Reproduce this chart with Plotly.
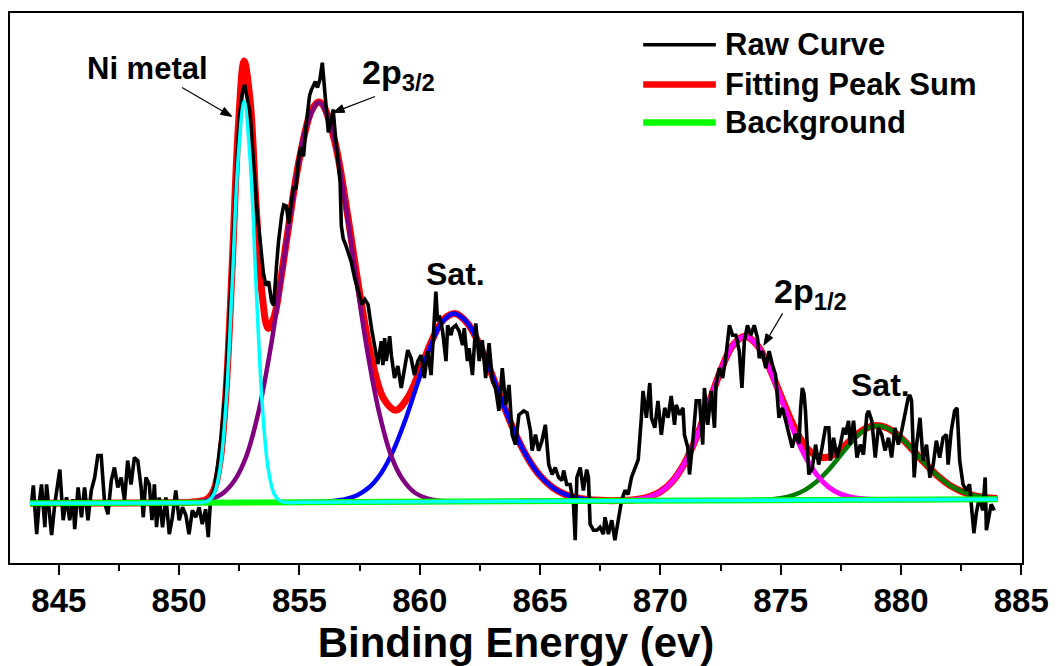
import math
import plotly.graph_objects as go

# ---------------- data ----------------
raw_energy = [
 843.87,843.94,844.08,844.18,844.28,844.42,844.49,844.60,844.70,844.83,845.04,845.18,845.32,845.45,845.59,845.66,
 845.80,845.94,846.07,846.21,846.35,846.49,846.62,846.76,846.90,847.04,847.18,847.31,847.45,847.59,847.73,847.86,
 848.00,848.14,848.28,848.42,848.51,848.62,848.76,848.87,848.97,849.06,849.17,849.31,849.45,849.59,849.72,849.86,
 850.00,850.14,850.28,850.41,850.55,850.69,850.83,850.96,851.10,851.21,851.31,851.45,851.60,851.75,851.90,852.05,
 852.20,852.35,852.50,852.62,852.72,852.82,852.95,853.10,853.25,853.39,853.50,853.60,853.72,853.84,853.93,854.05,
 854.13,854.26,854.35,854.46,854.55,854.65,854.75,854.85,854.96,855.05,855.17,855.30,855.42,855.50,855.60,855.66,
 855.75,855.85,855.95,856.05,856.12,856.20,856.30,856.40,856.50,856.60,856.69,856.74,856.82,856.92,857.02,857.15,
 857.30,857.45,857.60,857.72,857.85,858.00,858.14,858.26,858.40,858.47,858.54,858.61,858.75,858.82,858.95,859.09,
 859.23,859.37,859.50,859.64,859.78,859.92,860.06,860.19,860.33,860.47,860.61,860.67,860.74,860.81,860.95,861.09,
 861.16,861.30,861.36,861.50,861.64,861.78,861.85,861.98,862.05,862.19,862.33,862.47,862.60,862.74,862.88,863.02,
 863.15,863.29,863.43,863.57,863.71,863.84,863.98,864.12,864.32,864.46,864.60,864.67,864.81,864.94,865.08,865.22,
 865.36,865.50,865.63,865.77,865.91,865.98,866.11,866.25,866.39,866.46,866.53,866.67,866.80,866.94,867.01,867.08,
 867.22,867.36,867.49,867.63,867.70,867.84,867.98,868.11,868.25,868.39,868.53,868.66,868.80,868.94,869.08,869.21,
 869.28,869.42,869.56,869.63,869.77,869.90,870.04,870.18,870.32,870.45,870.59,870.66,870.80,870.94,871.00,871.14,
 871.21,871.35,871.49,871.63,871.76,871.83,871.97,872.11,872.25,872.31,872.45,872.59,872.73,872.87,873.00,873.14,
 873.28,873.39,873.49,873.62,873.76,873.90,874.04,874.11,874.24,874.38,874.52,874.66,874.79,874.93,875.07,875.21,
 875.35,875.48,875.62,875.76,875.83,875.90,875.97,876.03,876.17,876.31,876.45,876.58,876.72,876.86,877.00,877.07,
 877.20,877.34,877.48,877.62,877.69,877.82,877.89,878.03,878.17,878.31,878.44,878.58,878.65,878.79,878.93,879.06,
 879.20,879.34,879.48,879.61,879.75,879.89,880.03,880.17,880.30,880.37,880.44,880.55,880.65,880.79,880.92,881.06,
 881.20,881.34,881.47,881.61,881.75,881.89,881.96,882.09,882.23,882.33,882.44,882.58,882.71,882.85,882.92,883.03,
 883.13,883.26,883.40,883.50,883.55,883.68,883.75,883.88]
raw_counts = [
 1,18,-31,0,19,-24,19,-10,-32,-1,34,-17,6,-17,4,-26,
 16,-14,16,-17,13,26,48,48,1,-11,23,36,16,26,3,43,
 19,46,43,16,-14,26,19,-17,19,-24,6,-24,6,-31,-14,13,
 -17,-4,-12,-31,-7,-14,-4,-21,-6,-34,6,14,38,68,108,168,
 236,318,388,412,421,408,392,340,290,258,232,219,223,203,199,240,
 263,289,300,299,281,300,318,316,346,358,349,385,410,416,420,424,
 418,426,443,416,395,373,382,396,368,340,323,279,266,260,253,243,
 226,212,200,205,200,175,156,140,163,139,166,143,168,149,126,138,
 116,136,154,146,129,143,149,126,153,129,189,213,183,189,173,143,
 179,169,176,179,173,159,176,143,156,129,181,143,164,126,161,123,
 116,93,136,99,119,69,59,89,93,91,73,53,69,53,63,79,
 39,29,36,26,23,33,19,19,-1,-37,26,36,13,34,26,-21,
 -27,-27,-24,-31,-14,-31,-17,-37,-17,3,13,9,26,36,44,86,
 113,86,121,86,76,103,69,96,86,108,79,99,89,96,69,56,
 29,63,103,103,59,116,79,113,76,119,136,126,149,179,169,169,
 153,116,163,179,169,179,166,146,153,136,153,139,129,86,96,83,
 69,56,70,60,96,116,110,93,29,35,59,39,56,76,76,43,
 66,46,59,76,69,83,59,83,46,59,49,89,93,83,46,76,
 69,53,66,46,76,59,73,89,106,109,103,26,59,86,43,59,
 26,39,63,46,66,69,39,73,93,96,43,19,13,19,-4,-30,
 -10,6,-7,26,-27,-7,-1,-7]

fit_energy = [843.8,848.0,850.0,850.5,851.0,851.2,851.45,851.7,851.95,852.2,852.45,852.7,852.95,853.2,853.45,
 853.7,853.95,854.2,854.5,855.0,855.5,855.8,856.0,856.5,857.0,857.5,858.0,858.5,859.0,859.5,860.0,860.5,861.0,
 861.5,862.0,862.5,863.0,863.5,864.0,864.5,865.0,865.5,866.0,866.5,867.0,867.5,868.0,868.5,869.0,869.5,870.0,
 870.5,871.0,871.5,872.0,872.5,873.0,873.5,874.0,874.5,875.0,875.5,876.0,876.5,877.0,877.5,878.0,878.5,879.0,
 879.5,880.0,880.5,881.0,881.5,882.0,882.5,883.0,883.5,884.0]
fit_sum = [0.0,0.4,0.8,1.2,2.7,4.9,13.8,42.3,113.1,236.6,374.2,444.8,404.6,298.9,209.6,
 175.9,187.6,221.3,270.2,346.4,394.8,403.5,399.8,360.4,290.2,211.6,145.6,105.3,93.7,106.3,133.4,163.5,185.1,
 190.7,180.6,158.7,129.2,97.7,68.6,45.0,27.7,16.3,9.4,5.7,3.8,3.0,2.7,3.0,3.8,6.3,11.6,
 22.1,40.0,66.5,99.4,133.0,158.4,168.1,159.9,137.9,108.5,79.9,58.2,47.3,46.8,54.5,65.5,74.9,78.3,
 74.9,65.9,53.5,40.1,28.1,18.6,12.2,8.1,6.0,4.8]

bg_energy = [843.8, 884.0]
bg_counts = [0.0, 4.0]

ni_energy = [843.8,848.0,850.5,850.95,851.2,851.45,851.7,851.95,852.2,852.45,852.7,852.95,853.2,853.45,853.7,
 853.95,854.2,854.45,855.0,860.0,884.0]
ni_counts = [0.0,0.4,0.7,0.9,2.4,9.3,34.8,100.8,217.8,345.8,403.8,345.8,217.8,100.8,34.8,
 9.3,2.4,1.0,1.1,1.6,4.0]

p32_energy = [843.8,847.0,849.8,850.3,850.8,851.3,851.8,852.3,852.8,853.3,853.8,854.3,854.8,855.3,855.8,
 856.3,856.8,857.3,857.8,858.3,858.8,859.3,859.8,860.3,860.8,861.3,861.8,864.0,884.0]
p32_counts = [0.0,0.3,0.7,1.0,1.7,4.0,9.8,22.9,47.9,92.0,156.0,236.0,318.0,380.0,403.0,
 380.0,318.0,236.0,156.0,92.5,48.5,23.6,10.6,5.0,2.7,2.1,1.9,2.0,4.0]

sat1_energy = [843.8,850.0,853.5,855.9,856.4,856.9,857.4,857.9,858.4,858.9,859.4,859.9,860.4,860.9,861.4,
 861.9,862.4,862.9,863.4,863.9,864.4,864.9,865.4,865.9,866.4,866.9,867.4,867.9,870.0,884.0]
sat1_counts = [0.0,0.6,1.0,1.5,2.3,4.1,8.2,16.2,30.6,53.0,83.8,119.9,155.2,181.1,190.8,
 183.6,163.9,135.5,103.9,74.0,49.2,30.6,18.2,10.5,6.3,4.1,3.1,2.7,2.6,4.0]

p12_energy = [843.8,856.0,865.0,868.0,868.5,869.0,869.5,870.0,870.5,871.0,871.5,872.0,872.5,873.0,873.5,
 874.0,874.5,875.0,875.5,876.0,876.5,877.0,877.5,878.0,878.5,879.0,879.5,881.0,884.0]
p12_counts = [0.0,1.2,2.1,2.5,2.9,3.8,6.3,11.6,22.1,40.0,66.5,99.4,133.0,158.4,168.0,
 159.6,137.1,106.4,75.0,48.1,28.7,16.2,9.3,5.8,4.4,3.8,3.6,3.7,4.0]

sat2_energy = [843.8,860.0,870.0,873.5,874.0,874.5,875.0,875.5,876.0,876.5,877.0,877.5,878.0,878.5,879.0,
 879.5,880.0,880.5,881.0,881.5,882.0,882.5,883.0,883.5,884.0]
sat2_counts = [0.0,1.6,2.6,3.1,3.3,3.9,5.2,8.1,13.3,21.9,33.9,48.6,63.1,74.0,78.0,
 74.8,65.9,53.5,40.1,28.1,18.6,12.2,8.1,6.0,4.8]

legend_names = ["Raw Curve", "Fitting Peak Sum", "Background"]
peak_labels = ["Ni metal", "2p<sub>3/2</sub>", "Sat.", "2p<sub>1/2</sub>", "Sat."]

# ---------------- figure ----------------
FONT = "Arial, 'Liberation Sans', Helvetica, sans-serif"
fig = go.Figure()

fig.add_trace(go.Scatter(x=fit_energy, y=fit_sum, mode="lines", line=dict(color="#ff0000", width=7, shape="spline"),
                         name=legend_names[1], showlegend=False))
fig.add_trace(go.Scatter(x=sat2_energy, y=sat2_counts, mode="lines", line=dict(color="#007a00", width=4.5, shape="spline"),
                         showlegend=False))
fig.add_trace(go.Scatter(x=p12_energy, y=p12_counts, mode="lines", line=dict(color="#ff00ff", width=5, shape="spline"),
                         showlegend=False))
fig.add_trace(go.Scatter(x=sat1_energy, y=sat1_counts, mode="lines", line=dict(color="#0000ff", width=4.5, shape="spline"),
                         showlegend=False))
fig.add_trace(go.Scatter(x=p32_energy, y=p32_counts, mode="lines", line=dict(color="#800080", width=4.5, shape="spline"),
                         showlegend=False))
fig.add_trace(go.Scatter(x=raw_energy, y=raw_counts, mode="lines", line=dict(color="#000000", width=3.6),
                         name=legend_names[0], showlegend=False))
fig.add_trace(go.Scatter(x=bg_energy, y=bg_counts, mode="lines", line=dict(color="#00ff00", width=6),
                         name=legend_names[2], showlegend=False))
fig.add_trace(go.Scatter(x=ni_energy, y=ni_counts, mode="lines", line=dict(color="#00ffff", width=3.5, shape="spline"),
                         showlegend=False))

# axes
X0, X1 = 842.97, 885.03
Y0, Y1 = -60, 493
fig.update_xaxes(range=[X0, X1], showline=True, linecolor="black", linewidth=2, mirror=True,
                 ticks="outside", tick0=845, dtick=5, ticklen=10, tickwidth=2, tickcolor="black",
                 minor=dict(ticks="outside", dtick=2.5, tick0=845, ticklen=6, tickwidth=2, tickcolor="black"),
                 showgrid=False, zeroline=False, ticklabelstandoff=-3,
                 tickfont=dict(family=FONT, size=33, color="black", weight="bold"),
                 title=dict(text="Binding Energy (ev)", font=dict(family=FONT, size=42, color="black", weight="bold"),
                            standoff=8))
fig.update_yaxes(range=[Y0, Y1], showline=True, linecolor="black", linewidth=2, mirror=True,
                 ticks="", showticklabels=False, showgrid=False, zeroline=False)

# manual legend (long sample lines like the reference)
leg_rows = [(0.9421, "#000000", 3.5), (0.8698, "#ff0000", 6.5), (0.8011, "#00ff00", 6.5)]
for (yy, col, w), name in zip(leg_rows, legend_names):
    fig.add_shape(type="line", xref="paper", yref="paper", x0=0.6257, x1=0.6975, y0=yy, y1=yy,
                  line=dict(color=col, width=w))
    fig.add_annotation(xref="paper", yref="paper", x=0.7043, y=yy, text=name, showarrow=False,
                       xanchor="left", yanchor="middle",
                       font=dict(family=FONT, size=31, color="black", weight="bold"))

# peak labels
lab_pos = [(848.70, 437, 31), (859.13, 431, 34), (861.47, 231, 32), (876.25, 211, 34), (879.13, 119, 32)]
for (xx, yy, fs), txt in zip(lab_pos, peak_labels):
    fig.add_annotation(x=xx, y=yy, text=txt, showarrow=False, xanchor="center", yanchor="middle",
                       font=dict(family=FONT, size=fs, color="black", weight="bold"))

# arrows (tail -> tip), drawn as a line plus a filled head
PX_PER_X = 1018 / (X1 - X0)
PX_PER_Y = 553 / (Y1 - Y0)
arrows = [((850.12, 418), (852.19, 389)), ((858.14, 409), (856.40, 393)), ((875.08, 191), (874.30, 159))]
for (tx, ty), (hx, hy) in arrows:
    dxp = (hx - tx) * PX_PER_X
    dyp = (hy - ty) * PX_PER_Y
    L = math.hypot(dxp, dyp)
    ux, uy = dxp / L, dyp / L
    hl, hw = 11.0, 4.0
    bx, by = -ux * hl, -uy * hl
    c1 = (bx - uy * hw, by + ux * hw)
    c2 = (bx + uy * hw, by - ux * hw)
    fig.add_shape(type="line", xref="x", yref="y", x0=tx, y0=ty,
                  x1=hx + bx / PX_PER_X, y1=hy + by / PX_PER_Y, line=dict(color="black", width=1.2))
    path = "M {:.4f},{:.3f} L {:.4f},{:.3f} L {:.4f},{:.3f} Z".format(
        hx, hy, hx + c1[0] / PX_PER_X, hy + c1[1] / PX_PER_Y, hx + c2[0] / PX_PER_X, hy + c2[1] / PX_PER_Y)
    fig.add_shape(type="path", xref="x", yref="y", path=path, fillcolor="black", line=dict(color="black", width=1))

fig.update_layout(width=1059, height=666, autosize=False,
                  margin=dict(l=10, r=31, t=13, b=100),
                  paper_bgcolor="white", plot_bgcolor="white",
                  font=dict(family=FONT, color="black"), showlegend=False)

fig.write_html("out.html")
